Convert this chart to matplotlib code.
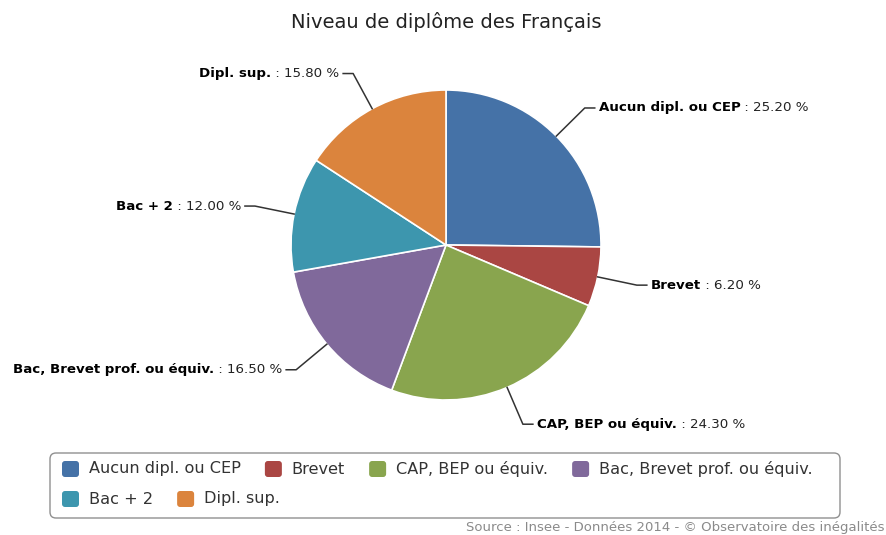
import matplotlib.pyplot as plt
from matplotlib.patches import FancyBboxPatch
import numpy as np

# data
categories = ["Aucun dipl. ou CEP", "Brevet", "CAP, BEP ou équiv.",
              "Bac, Brevet prof. ou équiv.", "Bac + 2", "Dipl. sup."]
shares = [25.2, 6.2, 24.3, 16.5, 12.0, 15.8]
colors = ['#4572A7', '#AA4643', '#89A54E', '#80699B', '#3D96AE', '#DB843D']

title = "Niveau de diplôme des Français"
source = "Source : Insee - Données 2014 - © Observatoire des inégalités"

W, H = 887, 535
fig = plt.figure(figsize=(W / 100, H / 100), dpi=100)
ax = fig.add_axes([0, 0, 1, 1])

# pie, pixel coordinates (y up)
cx, cy, r = 446, H - 245, 155
wedges, _ = ax.pie(shares, colors=colors, startangle=90, counterclock=False,
                   center=(cx, cy), radius=r,
                   wedgeprops=dict(edgecolor='white', linewidth=1.2))
ax.set_xlim(0, W)
ax.set_ylim(0, H)
ax.set_aspect('auto')
ax.axis('off')

fig.canvas.draw()
renderer = fig.canvas.get_renderer()


def text_width(t):
    return t.get_window_extent(renderer).width


# data labels with connectors
lab_size = 9.6
for w, cat, val in zip(wedges, categories, shares):
    a = np.deg2rad((w.theta1 + w.theta2) / 2)
    ca, sa = np.cos(a), np.sin(a)
    x0, y0 = cx + r * ca, cy + r * sa
    x1, y1 = cx + (r + 40) * ca, cy + (r + 40) * sa
    side = 1 if ca >= 0 else -1
    x2 = x1 + side * 10
    ax.plot([x0, x1, x2], [y0, y1, y1], color='#333333', lw=1.1)
    value = f" : {val:.2f} %"
    if side > 0:
        t = ax.text(x2 + 4, y1, cat, ha='left', va='center',
                    fontweight='bold', fontsize=lab_size, color='black')
        ax.text(x2 + 4 + text_width(t), y1, value, ha='left', va='center',
                fontsize=lab_size, color='#222222')
    else:
        t = ax.text(x2 - 4, y1, value, ha='right', va='center',
                    fontsize=lab_size, color='#222222')
        ax.text(x2 - 4 - text_width(t), y1, cat, ha='right', va='center',
                fontweight='bold', fontsize=lab_size, color='black')

# title and source
ax.text(446, H - 22, title, ha='center', va='center', fontsize=14, color='#222222')
ax.text(885, H - 527, source, ha='right', va='center', fontsize=9.5, color='#8a8a8a')

# legend box (flow layout like the original)
box_x0, box_x1 = 50, 840
box_y0, box_y1 = H - 518, H - 453
ax.add_patch(FancyBboxPatch((box_x0, box_y0), box_x1 - box_x0, box_y1 - box_y0,
                            boxstyle="round,pad=0,rounding_size=6",
                            facecolor='white', edgecolor='#909090', lw=1))
row_y = [H - 469, H - 499]
leg_size = 11.6
x, row = 62, 0
for cat, col in zip(categories, colors):
    t = ax.text(0, 0, cat, fontsize=leg_size)
    tw = text_width(t)
    t.remove()
    if x + 28 + tw > box_x1 - 10:
        row += 1
        x = 62
    y = row_y[row]
    ax.add_patch(FancyBboxPatch((x, y - 8), 17, 16,
                                boxstyle="round,pad=0,rounding_size=3",
                                facecolor=col, edgecolor='none'))
    ax.text(x + 27, y, cat, ha='left', va='center', fontsize=leg_size, color='#333333')
    x += 27 + tw + 24

fig.savefig("out.png", dpi=100)
